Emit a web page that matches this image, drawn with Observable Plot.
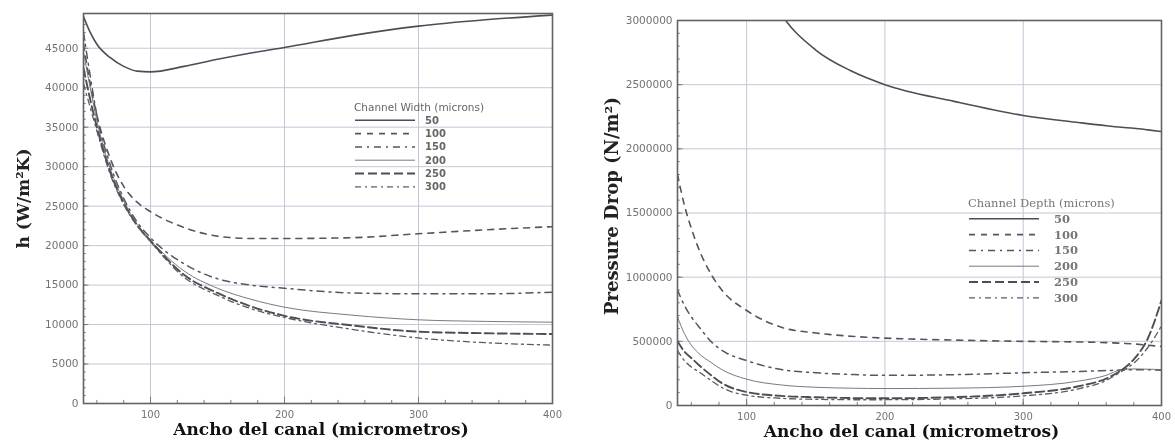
<!DOCTYPE html>
<html>
<head>
<meta charset="utf-8">
<script src="https://cdn.jsdelivr.net/npm/d3@7"></script>
<script src="https://cdn.jsdelivr.net/npm/@observablehq/plot@0.6"></script>
<style>
  html, body { margin: 0; padding: 0; background: #fff; }
  #wrap { position: relative; width: 1175px; height: 447px; overflow: hidden; filter: blur(0.35px); }
  #left, #right { position: absolute; top: 0; }
  #left { left: 0; }
  #right { left: 590px; }
  .legend { position: absolute; }
  .legend svg { display: block; overflow: visible; }
</style>
</head>
<body>
<div id="wrap">
  <div id="left"></div>
  <div id="right"></div>
  <div class="legend" id="legLeft"></div>
  <div class="legend" id="legRight"></div>
</div>
<script>
// ---- Heat transfer coefficient h vs channel width, one curve per channel width ----
const widthX = [50, 55, 60, 70, 80, 90, 100, 125, 150, 175, 200, 250, 300, 350, 400];
const h50  = [49000, 47000, 45500, 43800, 42700, 42100, 42000, 42700, 43600, 44400, 45100, 46600, 47800, 48600, 49200];
const h100 = [45500, 40500, 36500, 31000, 27500, 25500, 24300, 22300, 21200, 20900, 20900, 21000, 21500, 22000, 22400];
const h150 = [47000, 41500, 36500, 30200, 26000, 23000, 21000, 17700, 15800, 15000, 14600, 14000, 13900, 13900, 14100];
const h200 = [44500, 40000, 35800, 29700, 25700, 22700, 20700, 16800, 14600, 13200, 12200, 11200, 10600, 10400, 10300];
const h250 = [42500, 38500, 35000, 29300, 25400, 22600, 20600, 16300, 14000, 12300, 11100, 9900, 9100, 8900, 8800];
const h300 = [40500, 37500, 34500, 29000, 25200, 22500, 20500, 16000, 13700, 12000, 10900, 9400, 8300, 7700, 7400];
const hTicks = [0, 5000, 10000, 15000, 20000, 25000, 30000, 35000, 40000, 45000];
const widthTicks = [100, 200, 300, 400];

// ---- Pressure drop vs channel width, one curve per channel depth ----
const depthX = [50, 55, 60, 65, 75, 82, 100, 125, 150, 175, 200, 250, 300, 340, 360, 371, 380, 390, 400];
const p50  = [null, null, null, null, null, null, 3600000, 3050000, 2770000, 2610000, 2500000, 2370000, 2260000, 2205000, 2180000, 2168000, 2160000, 2148000, 2135000];
const p100 = [1800000, 1560000, 1380000, 1230000, 1010000, 900000, 740000, 610000, 565000, 540000, 525000, 510000, 500000, 495000, 490000, 485000, 480000, 470000, 460000];
const p150 = [900000, 780000, 690000, 620000, 490000, 430000, 350000, 280000, 255000, 242000, 235000, 240000, 255000, 265000, 272000, 276000, 278000, 278000, 275000];
const p200 = [690000, 560000, 470000, 410000, 330000, 280000, 205000, 160000, 142000, 135000, 132000, 135000, 150000, 190000, 235000, 280000, 285000, 283000, 280000];
const p250 = [500000, 420000, 370000, 320000, 230000, 175000, 105000, 75000, 64000, 58000, 56000, 65000, 95000, 150000, 210000, 275000, 360000, 520000, 820000];
const p300 = [430000, 350000, 300000, 265000, 190000, 140000, 80000, 56000, 48000, 45000, 45000, 52000, 75000, 130000, 195000, 265000, 330000, 450000, 620000];
const pTicks = [0, 500000, 1000000, 1500000, 2000000, 2500000, 3000000];

const seriesNames = ["50", "100", "150", "200", "250", "300"];

// line styles per series
const lineStyle = {
  "50":  {dash: null,        width: 1.6, color: "#4d4d55"},
  "100": {dash: "6,6",       width: 1.6, color: "#55555d"},
  "150": {dash: "7,5,2,5",   width: 1.5, color: "#55555d"},
  "200": {dash: null,        width: 0.9, color: "#6a6a72"},
  "250": {dash: "9,4",       width: 1.9, color: "#4d4d55"},
  "300": {dash: "6,4,2,4",   width: 1.3, color: "#5a5a62"}
};

const gridColor = "#c3c7d8";
const frameColor = "#616166";
const tickText = "#727278";
const tickStroke = "#7a7a80";
const serif = "'DejaVu Serif', 'Liberation Serif', serif";
const sans = "'DejaVu Sans', 'Liberation Sans', sans-serif";

function rows(xs, ys) {
  return xs.map((x, i) => ({x, y: ys[i]}));
}

function lineMarks(xs, series) {
  return seriesNames.map((name, i) => {
    const s = lineStyle[name];
    return Plot.line(rows(xs, series[i]), {
      x: "x", y: "y", curve: "monotone-x",
      stroke: s.color, strokeWidth: s.width, strokeDasharray: s.dash,
      clip: true
    });
  });
}

function chart({xs, series, yDomain, yTicks, yMinor, width, margins, yLabel, yLabelSize, xLabelDx, yLabelDx, yLabelDy}) {
  const xMinor = d3.range(60, 400, 20);
  const yTop = yDomain[1];
  return Plot.plot({
    width, height: 447,
    marginLeft: margins[0], marginRight: margins[1], marginTop: margins[2], marginBottom: margins[3],
    style: {background: "transparent"},
    x: {domain: [50, 400]},
    y: {domain: yDomain},
    marks: [
      Plot.gridX(widthTicks.slice(0, 3), {stroke: gridColor, strokeOpacity: 1, strokeWidth: 1}),
      Plot.gridY(yTicks.slice(1), {stroke: gridColor, strokeOpacity: 1, strokeWidth: 1}),
      // short inward ticks along the bottom and left edges of the frame
      Plot.ruleX(xMinor, {y1: 0, y2: yTop * 0.008, stroke: tickStroke}),
      Plot.ruleX(widthTicks, {y1: 0, y2: yTop * 0.016, stroke: tickStroke}),
      Plot.ruleY(yMinor, {x1: 50, x2: 52, stroke: tickStroke}),
      Plot.ruleY(yTicks, {x1: 50, x2: 54, stroke: tickStroke}),
      Plot.axisX(widthTicks, {tickSize: 0, tickPadding: 7, label: null, fontSize: 10,
        fontFamily: sans, fill: tickText, tickFormat: d => String(d)}),
      Plot.axisY(yTicks, {tickSize: 0, tickPadding: 5, label: null, fontSize: 10.5,
        fontFamily: sans, fill: tickText, tickFormat: d => String(d)}),
      ...lineMarks(xs, series),
      Plot.frame({stroke: frameColor, strokeWidth: 1.6}),
      Plot.text(["Ancho del canal (micrometros)"], {
        frameAnchor: "bottom", dy: 31, dx: xLabelDx, text: d => d,
        fontFamily: serif, fontWeight: "bold", fontSize: 17, fill: "#111"
      }),
      Plot.text([yLabel], {
        frameAnchor: "left", textAnchor: "middle", rotate: -90, dx: yLabelDx, dy: yLabelDy, text: d => d,
        fontFamily: serif, fontWeight: "bold", fontSize: yLabelSize, fill: "#222"
      })
    ]
  });
}

document.getElementById("left").append(chart({
  xs: widthX,
  series: [h50, h100, h150, h200, h250, h300],
  yDomain: [0, 49400],
  yTicks: hTicks,
  yMinor: d3.range(1000, 49000, 1000),
  width: 590,
  margins: [83, 38, 13, 44],
  yLabel: "h (W/m²K)", yLabelSize: 17,
  xLabelDx: 3, yLabelDx: -60, yLabelDy: -10
}));

document.getElementById("right").append(chart({
  xs: depthX,
  series: [p50, p100, p150, p200, p250, p300],
  yDomain: [0, 3000000],
  yTicks: pTicks,
  yMinor: d3.range(100000, 3000000, 100000),
  width: 585,
  margins: [87, 14, 20, 42],
  yLabel: "Pressure Drop (N/m²)", yLabelSize: 18,
  xLabelDx: -8, yLabelDx: -65, yLabelDy: -7
}));

// legends drawn inside each plot area
function legend(el, {left, top, title, titleFont, labelFont, lineLen, rowGap, labelGap, titleSize, labelSize, titleColor, labelColor}) {
  const box = document.getElementById(el);
  box.style.left = left + "px";
  box.style.top = top + "px";
  const w = 220, h = 16 + rowGap * seriesNames.length;
  const svg = d3.select(box).append("svg").attr("width", w).attr("height", h);
  svg.append("text").attr("x", 0).attr("y", 8).attr("dy", "0.35em")
    .attr("font-family", titleFont).attr("font-size", titleSize).attr("fill", titleColor)
    .text(title);
  seriesNames.forEach((name, i) => {
    const s = lineStyle[name];
    const y = 8 + rowGap * (i + 1);
    svg.append("line").attr("x1", 1).attr("x2", 1 + lineLen).attr("y1", y).attr("y2", y)
      .attr("stroke", s.color).attr("stroke-width", s.width)
      .attr("stroke-dasharray", s.dash);
    svg.append("text").attr("x", lineLen + labelGap).attr("y", y).attr("dy", "0.35em")
      .attr("font-family", labelFont).attr("font-size", labelSize).attr("font-weight", "bold")
      .attr("fill", labelColor).text(name);
  });
}

legend("legLeft", {left: 354, top: 99, title: "Channel Width (microns)", titleFont: sans, labelFont: sans,
  lineLen: 60, rowGap: 13.3, labelGap: 11, titleSize: 10.5, labelSize: 10, titleColor: "#666", labelColor: "#666"});
legend("legRight", {left: 968, top: 195, title: "Channel Depth (microns)", titleFont: serif, labelFont: serif,
  lineLen: 70, rowGap: 15.8, labelGap: 16, titleSize: 11.5, labelSize: 11.5, titleColor: "#777", labelColor: "#777"});
</script>
</body>
</html>
